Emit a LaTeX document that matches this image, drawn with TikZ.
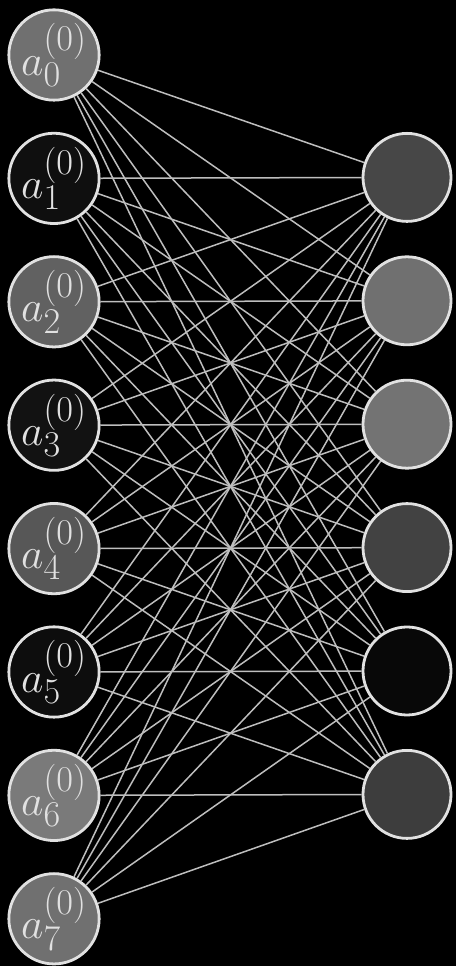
\documentclass[tikz,border=0pt]{standalone}
\usepackage{graphicx}
\begin{document}
\begin{tikzpicture}[x=1pt,y=1pt,
  neuron/.style={circle, draw={rgb,255:red,225;green,225;blue,225}, line width=2.8pt, minimum size=89pt, inner sep=0pt, text={rgb,255:red,225;green,225;blue,225}},
  outneuron/.style={neuron, minimum size=88pt},
  link/.style={draw={rgb,255:red,190;green,190;blue,190}, line width=1.5pt}]
\fill[black] (0,0) rectangle (456,966);
\useasboundingbox (0,0) rectangle (456,966);
\definecolor{c0}{gray}{0.44}
\definecolor{c1}{gray}{0.06}
\definecolor{c2}{gray}{0.38}
\definecolor{c3}{gray}{0.07}
\definecolor{c4}{gray}{0.34}
\definecolor{c5}{gray}{0.05}
\definecolor{c6}{gray}{0.48}
\definecolor{c7}{gray}{0.44}
\definecolor{r1}{gray}{0.28}
\definecolor{r2}{gray}{0.44}
\definecolor{r3}{gray}{0.45}
\definecolor{r4}{gray}{0.26}
\definecolor{r5}{gray}{0.03}
\definecolor{r6}{gray}{0.24}
\foreach \i/\c in {0/c0,1/c1,2/c2,3/c3,4/c4,5/c5,6/c6,7/c7}{
  \node[neuron, fill=\c] (l\i) at (54, {966-55-123.4*\i}) {\scalebox{1.75}{\Huge$a_{\i}^{(0)}$}};
}
\foreach \j/\c in {1/r1,2/r2,3/r3,4/r4,5/r5,6/r6}{
  \node[outneuron, fill=\c] (r\j) at (407, {966-54-123.4*\j}) {};
}
\foreach \i in {0,...,7}{
  \foreach \j in {1,...,6}{
    \path[link] (l\i) -- (r\j);
  }
}
\end{tikzpicture}
\end{document}
